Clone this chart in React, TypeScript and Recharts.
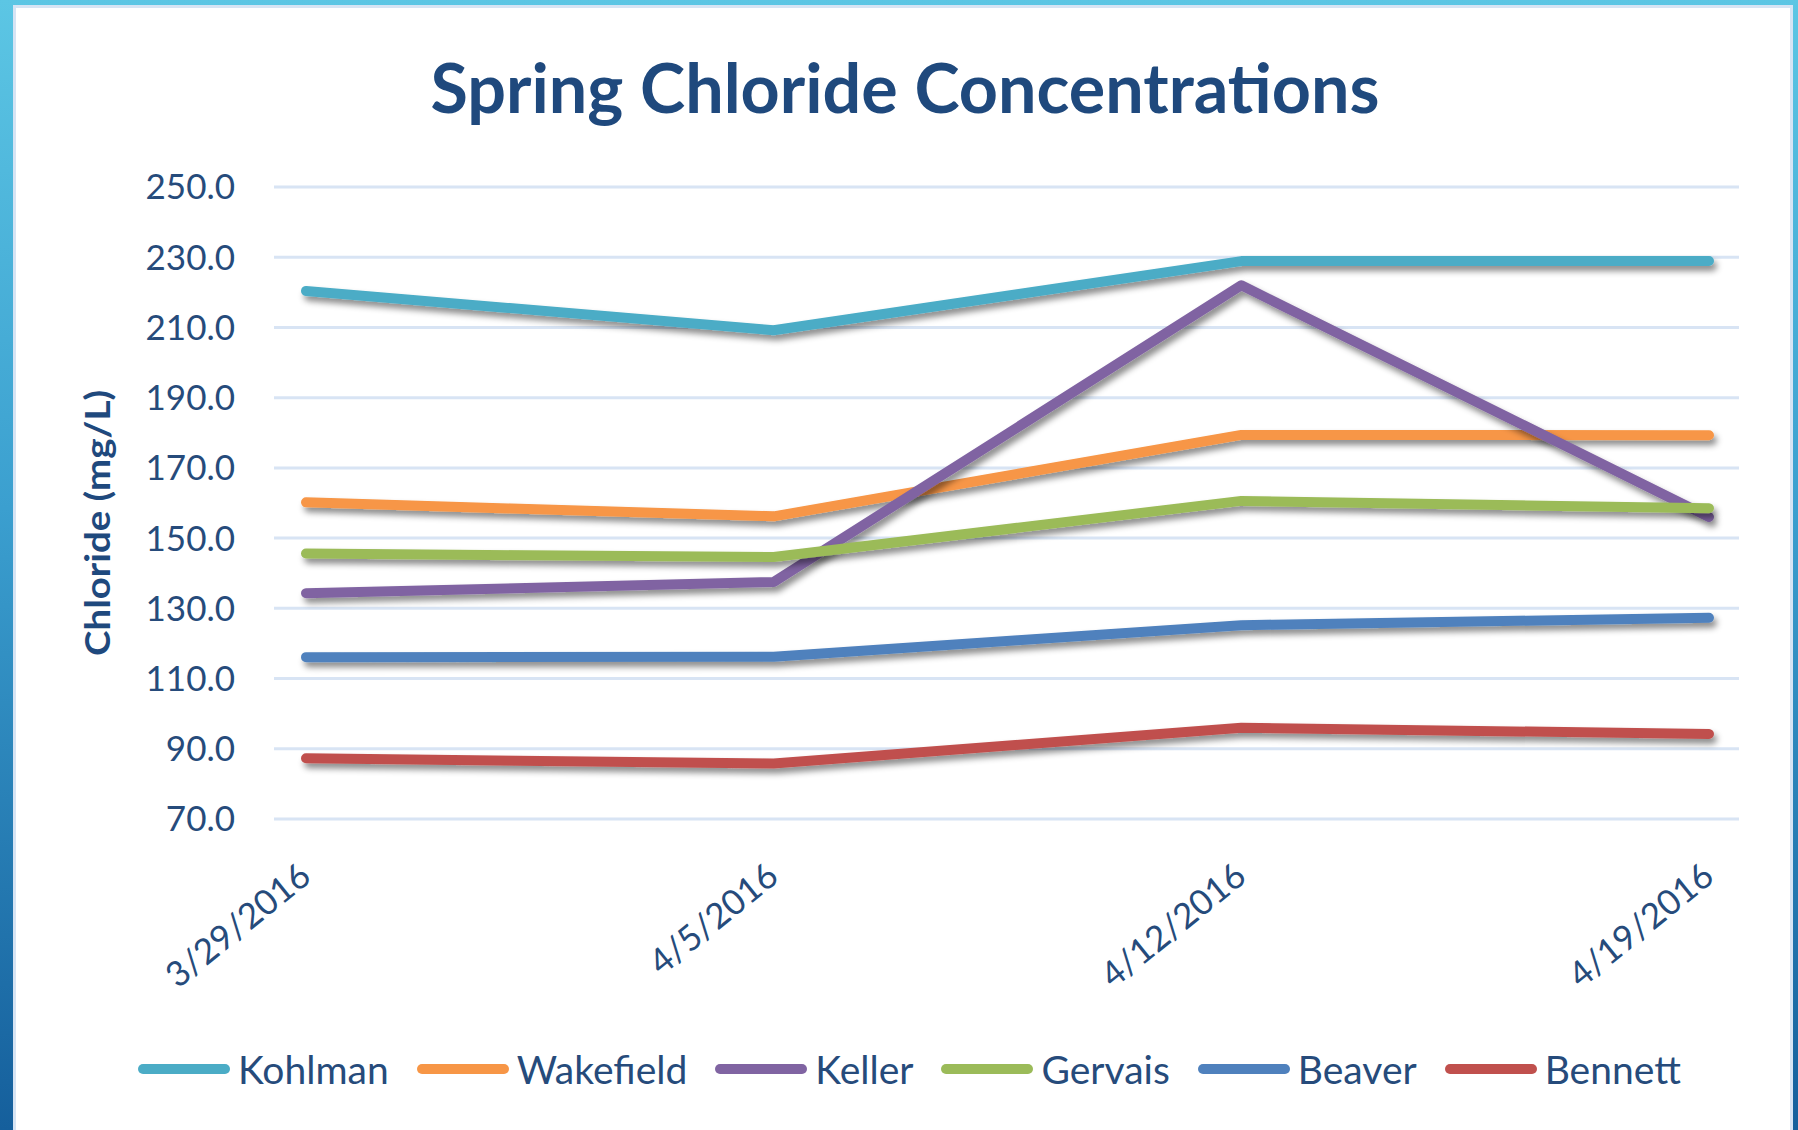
import { CartesianGrid, Line, LineChart, XAxis, YAxis } from "recharts";

// sample dates (x axis)
const DATES = ["3/29/2016", "4/5/2016", "4/12/2016", "4/19/2016"];

// chloride, mg/L
const KOHLMAN = [220.4, 209.2, 228.9, 228.9];
const WAKEFIELD = [160.2, 156.2, 179.4, 179.3];
const KELLER = [134.3, 137.5, 222.0, 156.0];
const GERVAIS = [145.6, 144.6, 160.6, 158.5];
const BEAVER = [116.1, 116.2, 125.2, 127.3];
const BENNETT = [87.3, 85.8, 96.0, 94.2];

const Y_TICKS = [70, 90, 110, 130, 150, 170, 190, 210, 230, 250];

const SERIES = [
  { name: "Kohlman", values: KOHLMAN, color: "#4BACC6" },
  { name: "Wakefield", values: WAKEFIELD, color: "#F79646" },
  { name: "Keller", values: KELLER, color: "#8064A2" },
  { name: "Gervais", values: GERVAIS, color: "#9BBB59" },
  { name: "Beaver", values: BEAVER, color: "#4F81BD" },
  { name: "Bennett", values: BENNETT, color: "#C0504D" },
];

const data = DATES.map((date, i) => {
  const row: Record<string, string | number> = { date };
  SERIES.forEach((s) => {
    row[s.name] = s.values[i];
  });
  return row;
});

const W = 1798;
const H = 1130;
const FONT = "Lato, 'Open Sans', sans-serif";
const TEXT = "#264b7b";
const TITLE = "#1F497D";

function DateTick({ x, y, payload }: any) {
  const ax = x + 7;
  const ay = y + 61;
  return (
    <text
      x={ax}
      y={ay}
      textAnchor="end"
      transform={`rotate(-39 ${ax} ${ay})`}
      fill={TEXT}
      fontSize={35}
      fontFamily={FONT}
    >
      {payload.value}
    </text>
  );
}

function YLabel() {
  return (
    <text
      x={110}
      y={523}
      textAnchor="middle"
      transform="rotate(-90 110 523)"
      fill={TITLE}
      fontSize={34}
      fontWeight={700}
      fontFamily={FONT}
      textLength={266}
      lengthAdjust="spacingAndGlyphs"
    >
      Chloride (mg/L)
    </text>
  );
}

export default function App() {
  return (
    <div
      style={{
        position: "absolute",
        left: 0,
        top: 0,
        width: W,
        height: H,
        overflow: "hidden",
        background: "linear-gradient(to bottom, #5cc6e4 0%, #3b9fcf 45%, #155f9c 100%)",
      }}
    >
      <svg width={0} height={0} style={{ position: "absolute" }}>
        <defs>
          <filter
            id="lineShadow"
            filterUnits="userSpaceOnUse"
            x={0}
            y={0}
            width={W}
            height={H}
          >
            <feDropShadow dx={3} dy={5} stdDeviation={3} floodColor="#000" floodOpacity={0.45} />
          </filter>
        </defs>
      </svg>
      <div
        style={{
          position: "absolute",
          left: 13,
          top: 5,
          width: W - 13 - 5,
          height: H,
          background: "#fff",
          boxSizing: "border-box",
          border: "3px solid #d6e4f4",
          borderBottom: "none",
        }}
      />
      <svg
        width={W}
        height={160}
        style={{ position: "absolute", left: 0, top: 0 }}
      >
        <text
          x={905}
          y={113}
          textAnchor="middle"
          fill={TITLE}
          fontSize={68}
          fontWeight={700}
          fontFamily={FONT}
          textLength={949}
          lengthAdjust="spacingAndGlyphs"
        >
          Spring Chloride Concentrations
        </text>
      </svg>
      <div style={{ position: "absolute", left: 0, top: 0 }}>
        <LineChart
          width={W}
          height={H}
          data={data}
          margin={{ top: 187, right: 59, bottom: 211, left: 144 }}
        >
          <CartesianGrid
            vertical={false}
            stroke="#d8e4f4"
            strokeWidth={3}
          />
          <XAxis
            dataKey="date"
            height={100}
            axisLine={false}
            tickLine={false}
            tickSize={0}
            tickMargin={0}
            interval={0}
            padding={{ left: 32, right: 30 }}
            tick={<DateTick />}
          />
          <YAxis
            width={130}
            domain={[70, 250]}
            ticks={Y_TICKS}
            axisLine={false}
            tickLine={false}
            tickSize={0}
            tickMargin={39}
            tickFormatter={(v: number) => v.toFixed(1)}
            tick={{ fill: TEXT, fontSize: 35, fontFamily: FONT }}
            label={<YLabel />}
          />
          {SERIES.map((s) => (
            <Line
              key={s.name}
              type="linear"
              dataKey={s.name}
              stroke={s.color}
              strokeWidth={10}
              strokeLinecap="round"
              strokeLinejoin="round"
              filter="url(#lineShadow)"
              dot={false}
              activeDot={false}
              isAnimationActive={false}
            />
          ))}
        </LineChart>
      </div>
      <div
        style={{
          position: "absolute",
          left: 138,
          top: 1047,
          height: 44,
          display: "flex",
          alignItems: "center",
          fontFamily: FONT,
          fontSize: 39,
          color: TEXT,
        }}
      >
        {SERIES.map((s) => (
          <div
            key={s.name}
            style={{ display: "flex", alignItems: "center", marginRight: 28 }}
          >
            <span
              style={{
                display: "inline-block",
                width: 92,
                height: 10,
                borderRadius: 5,
                background: s.color,
                marginRight: 8,
              }}
            />
            <span>{s.name}</span>
          </div>
        ))}
      </div>
    </div>
  );
}
